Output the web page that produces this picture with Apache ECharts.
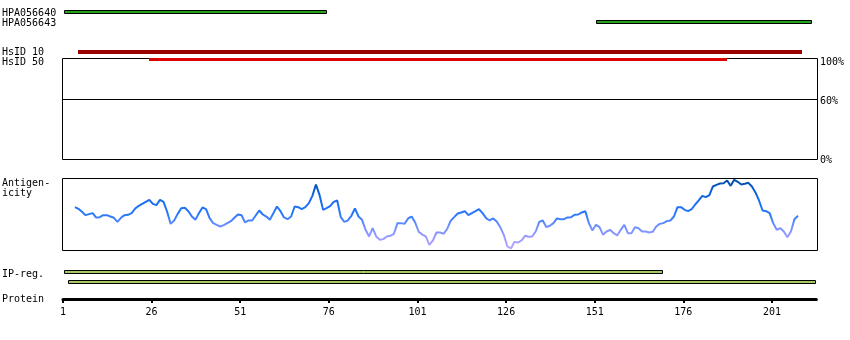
<!DOCTYPE html>
<html>
<head>
<meta charset="utf-8">
<script src="https://cdn.jsdelivr.net/npm/echarts@6/dist/echarts.min.js"></script>
<style>html,body{margin:0;padding:0;background:#fff}#c{width:850px;height:340px}</style>
</head>
<body>
<div id="c"></div>
<script>
// ---------- data ----------
var proteinLength = 213;
var antibodyNames = ['HPA056640', 'HPA056643'];
var antibodyStart = [1, 151];
var antibodyEnd = [75, 212];
var hsidNames = ['HsID 10', 'HsID 50'];
var hsidStart = [5, 25];
var hsidEnd = [209, 188];
var ipregStart = [1, 2];
var ipregEnd = [170, 213];
var percentLabels = ['100%', '60%', '0%'];
var identityLine = 60;
var tickLabels = ['1', '26', '51', '76', '101', '126', '151', '176', '201'];
var antigenStart = 4;
var antigenValues = [
 60.2,57.9,53.7,49.1,50.5,51.9,45.8,46.3,49.1,49.1,47.2,45.4,39.8,45.4,49.1,49.5,51.9,58.3,62.0,64.8,
 67.6,70.4,64.8,63.0,70.4,67.6,54.2,37.0,41.7,50.9,58.8,59.3,54.6,47.2,42.6,51.9,59.7,57.4,44.9,38.0,
 35.6,33.3,35.2,38.0,40.7,45.4,50.0,49.1,38.9,41.7,41.7,48.6,55.6,50.0,47.2,42.6,51.9,61.1,54.6,45.9,
 43.5,47.2,61.1,60.2,57.4,60.2,65.8,75.9,91.7,77.3,56.5,58.8,61.6,67.6,69.5,46.3,39.8,41.7,48.2,58.4,
 47.2,42.6,28.7,19.5,31.0,19.5,14.8,15.8,19.5,20.4,23.2,38.0,38.0,37.0,44.5,47.2,38.9,25.9,22.2,19.5,
 7.9,13.9,25.0,25.0,23.2,29.6,41.2,46.3,51.4,52.8,54.6,49.1,51.9,54.6,57.4,51.9,44.9,41.7,44.5,40.3,
 32.4,21.8,5.6,2.8,12.0,11.1,13.9,20.4,19.0,19.5,26.4,39.8,41.7,32.4,34.3,38.0,44.5,43.5,43.5,45.9,
 46.3,49.6,50.0,52.8,54.6,38.0,27.8,35.7,32.4,21.8,26.4,28.7,24.1,20.9,28.7,35.7,24.1,24.1,32.4,31.0,
 26.4,26.4,25.0,25.9,33.4,37.0,38.0,40.8,41.7,47.2,60.2,60.2,56.5,54.6,57.4,63.9,69.5,75.9,74.1,76.9,
 88.9,91.2,93.1,93.5,97.2,89.8,98.2,95.4,91.7,92.6,94.0,88.9,80.6,69.5,55.6,54.6,51.9,38.0,28.7,31.0,
 26.4,18.5,26.4,43.5,48.2
];

// ---------- helpers ----------
var FONT = '10px "DejaVu Sans Mono", "Liberation Mono", monospace';
function rows(starts, ends) {
  return starts.map(function (s, i) { return [s, ends[i], i]; });
}
function barRenderer(h, fill, stroke) {
  return function (params, api) {
    var p0 = api.coord([api.value(0), api.value(2)]);
    var p1 = api.coord([api.value(1), api.value(2)]);
    var x0 = Math.round(p0[0]), x1 = Math.round(p1[0]);
    var y0 = Math.round(p0[1] - h / 2);
    if (stroke) {
      return {type: 'rect', shape: {x: x0 + 0.5, y: y0 + 0.5, width: x1 - x0 - 1, height: h - 1},
              style: {fill: fill, stroke: stroke, lineWidth: 1}};
    }
    return {type: 'rect', shape: {x: x0, y: y0, width: x1 - x0, height: h}, style: {fill: fill}};
  };
}
function colorFor(i) {
  return i === 0 ? '#990000' : '#dd0000';
}
function trackX(gi) {
  return {gridIndex: gi, type: 'value', min: 0.5, max: proteinLength + 0.5, show: false};
}
function catY(gi, n) {
  var d = []; for (var i = 0; i < n; i++) d.push(i);
  return {gridIndex: gi, type: 'category', data: d, inverse: true, show: false};
}

var antigenData = antigenValues.map(function (v, i) { return [antigenStart + i, v]; });

var chart = echarts.init(document.getElementById('c'), null, {renderer: 'canvas'});
var L = 62.5, W = 755;
var option = {
  animation: false,
  backgroundColor: '#fff',
  grid: [
    {left: L, width: W, top: 7, height: 20},
    {left: L, width: W, top: 48.5, height: 14},
    {left: L, width: W, top: 58.5, height: 101, show: true, borderColor: '#000', borderWidth: 1, backgroundColor: 'transparent'},
    {left: L, width: W, top: 178.5, height: 72, show: true, borderColor: '#000', borderWidth: 1, backgroundColor: 'transparent'},
    {left: L, width: W, top: 267, height: 20},
    {left: 63, width: 753.3, top: 290, height: 9}
  ],
  xAxis: [
    trackX(0), trackX(1), trackX(2), trackX(3), trackX(4),
    {gridIndex: 5, type: 'value', min: 0, max: proteinLength - 0.5, interval: 25,
     axisLine: {show: true, lineStyle: {color: '#000', width: 3}},
     axisTick: {show: true, length: 4, lineStyle: {color: '#000', width: 2}},
     splitLine: {show: false},
     axisLabel: {show: true, margin: 8, color: '#000', fontSize: 10, fontFamily: '"DejaVu Sans Mono", monospace',
                 showMaxLabel: false,
                 formatter: function (v) { var k = Math.round(v / 25); return (Math.abs(v - k * 25) < 1e-6 && tickLabels[k]) ? tickLabels[k] : ''; }}}
  ],
  yAxis: [
    catY(0, 2), catY(1, 2),
    {gridIndex: 2, type: 'value', min: 0, max: 100, show: false},
    {gridIndex: 3, type: 'value', min: 0, max: 100, show: false},
    catY(4, 2),
    {gridIndex: 5, type: 'value', show: false}
  ],
  visualMap: {
    type: 'continuous', show: false, seriesIndex: 5, dimension: 1, min: 0, max: 100,
    inRange: {color: ['#b8a8ff', '#a09cff', '#7090ff', '#2a78fa', '#1a6ef2', '#0a5ed6', '#004a9c']}
  },
  series: [
    {type: 'custom', xAxisIndex: 0, yAxisIndex: 0, encode: {x: [0, 1], y: 2},
     renderItem: barRenderer(4, '#26a21e', '#000'), data: rows(antibodyStart, antibodyEnd), z: 3},
    {type: 'custom', xAxisIndex: 1, yAxisIndex: 1, encode: {x: [0, 1], y: 2},
     renderItem: function (params, api) {
       var h = api.value(2) === 0 ? 4 : 3;
       return barRenderer(h, colorFor(api.value(2)))(params, api);
     }, data: rows(hsidStart, hsidEnd), z: 5},
    {type: 'line', xAxisIndex: 2, yAxisIndex: 2, data: [], silent: true,
     markLine: {silent: true, symbol: 'none', label: {show: false},
                lineStyle: {color: '#000', width: 1, type: 'solid'}, data: [{yAxis: identityLine}]}},
    {type: 'custom', xAxisIndex: 4, yAxisIndex: 4, encode: {x: [0, 1], y: 2},
     renderItem: barRenderer(4, '#a4c864', '#000'), data: rows(ipregStart, ipregEnd), z: 3},
    {type: 'line', xAxisIndex: 5, yAxisIndex: 5, data: []},
    {type: 'line', xAxisIndex: 3, yAxisIndex: 3, data: antigenData, showSymbol: false, symbol: 'none',
     lineStyle: {width: 2}, z: 3, silent: true}
  ],
  graphic: [
    {type: 'text', x: 2, y: 13, style: {text: antibodyNames[0], font: FONT, fill: '#000', verticalAlign: 'middle'}},
    {type: 'text', x: 2, y: 23, style: {text: antibodyNames[1], font: FONT, fill: '#000', verticalAlign: 'middle'}},
    {type: 'text', x: 2, y: 52.5, style: {text: hsidNames[0], font: FONT, fill: '#000', verticalAlign: 'middle'}},
    {type: 'text', x: 2, y: 62.5, style: {text: hsidNames[1], font: FONT, fill: '#000', verticalAlign: 'middle'}},
    {type: 'text', x: 820, y: 62.7, style: {text: percentLabels[0], font: FONT, fill: '#000', verticalAlign: 'middle'}},
    {type: 'text', x: 820, y: 101.7, style: {text: percentLabels[1], font: FONT, fill: '#000', verticalAlign: 'middle'}},
    {type: 'text', x: 820, y: 160, style: {text: percentLabels[2], font: FONT, fill: '#000', verticalAlign: 'middle'}},
    {type: 'text', x: 2, y: 183, style: {text: 'Antigen-', font: FONT, fill: '#000', verticalAlign: 'middle'}},
    {type: 'text', x: 2, y: 193, style: {text: 'icity', font: FONT, fill: '#000', verticalAlign: 'middle'}},
    {type: 'text', x: 2, y: 274, style: {text: 'IP-reg.', font: FONT, fill: '#000', verticalAlign: 'middle'}},
    {type: 'text', x: 2, y: 299.3, style: {text: 'Protein', font: FONT, fill: '#000', verticalAlign: 'middle'}}
  ]
};
chart.setOption(option);
</script>
</body>
</html>
